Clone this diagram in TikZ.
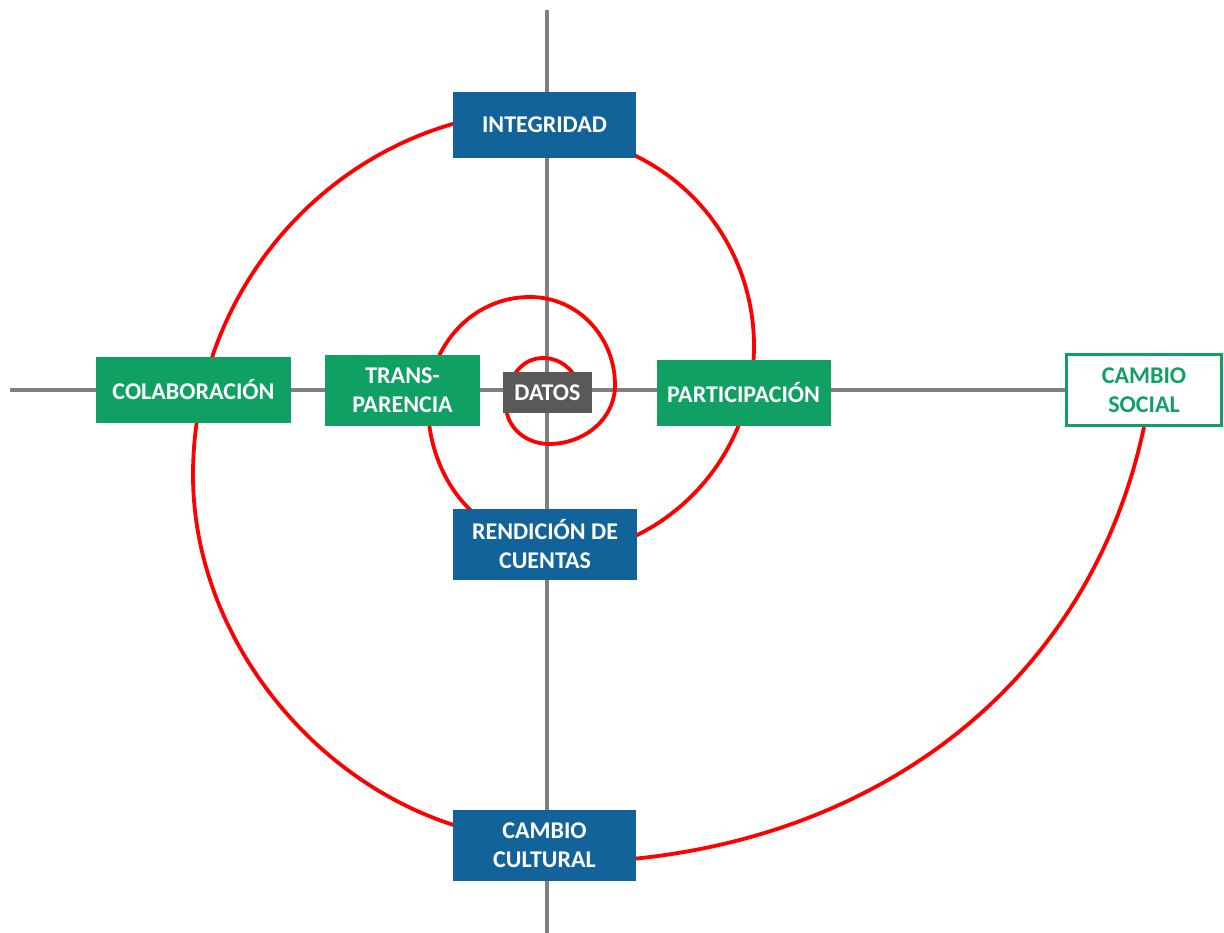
\documentclass[tikz,border=0pt]{standalone}
\usepackage{fontspec}
\setmainfont{Carlito}
\usetikzlibrary{backgrounds}

\definecolor{boxblue}{HTML}{12639A}
\definecolor{boxgreen}{HTML}{10A064}
\definecolor{boxgray}{HTML}{595959}
\definecolor{axisgray}{HTML}{808080}
\definecolor{spiralred}{HTML}{FF0000}

\begin{document}
\begin{tikzpicture}[x=1pt, y=1pt,
    box/.style={rectangle, inner sep=0pt, text=white, align=center,
                font=\fontsize{24}{29}\selectfont\bfseries},
    bluebox/.style={box, fill=boxblue, minimum width=183pt, minimum height=71pt},
    greenbox/.style={box, fill=boxgreen, minimum height=66pt},
    axisline/.style={axisgray, line width=3.6pt},
    spiralline/.style={spiralred, line width=3.8pt}]

    \useasboundingbox (0,0) rectangle (1224,933);

    % Boxes
    \node[bluebox, minimum height=66pt] (intg) at (544.5,808) {INTEGRIDAD};
    \node[greenbox, minimum width=195pt] (colab) at (193.5,543) {COLABORACIÓN};
    \node[greenbox, minimum width=155pt, minimum height=71pt] (trans) at (402.5,542.5) {TRANS-\\PARENCIA};
    \node[box, fill=boxgray, minimum width=89pt, minimum height=41pt] (datos) at (547.5,540.5) {DATOS};
    \node[greenbox, minimum width=174pt] (partic) at (743.5,540) {PARTICIPACIÓN};
    \node[box, draw=boxgreen, line width=3pt, fill=white, text=boxgreen,
          minimum width=155pt, minimum height=71pt] (social) at (1144,543) {CAMBIO\\SOCIAL};
    \node[bluebox, minimum width=184pt] (rend) at (545,388.5) {RENDICIÓN DE\\CUENTAS};
    \node[bluebox] (cult) at (544.5,87.5) {CAMBIO\\CULTURAL};

    \begin{scope}[on background layer]
        % Axes
        \coordinate (axtop) at (547,923);
        \coordinate (axbot) at (547,0);
        \coordinate (axleft) at (10,543);
        \draw[axisline] (axtop) -- (axbot);
        \draw[axisline] (axleft) -- (social.west);

        % Spiral
        \draw[spiralline] ([xshift=32pt,yshift=-2pt]datos.center)
            to[out=90,in=0] (543,575) to[out=180,in=90] (506,528)
            to[out=270,in=180] (549,489) to[out=0,in=270] (615,548)
            to[out=90,in=0] (530,636) to[out=180,in=90] (428,528)
            to[out=270,in=180] ([yshift=4pt]rend.center);
        \draw[spiralline] ([yshift=-12pt]rend.center)
            to[out=0,in=270] (754,587) to[out=90,in=0] ([yshift=-10pt]intg.center);
        \draw[spiralline] ([xshift=7pt,yshift=15pt]intg.center)
            to[out=180,in=90] (193,458)
            to[out=270,in=180,looseness=0.95] ([xshift=7pt,yshift=5pt]cult.center);
        \draw[spiralline] ([xshift=15pt,yshift=-17pt]cult.center)
            to[out=0,in=258] (social.south);
    \end{scope}
\end{tikzpicture}
\end{document}
